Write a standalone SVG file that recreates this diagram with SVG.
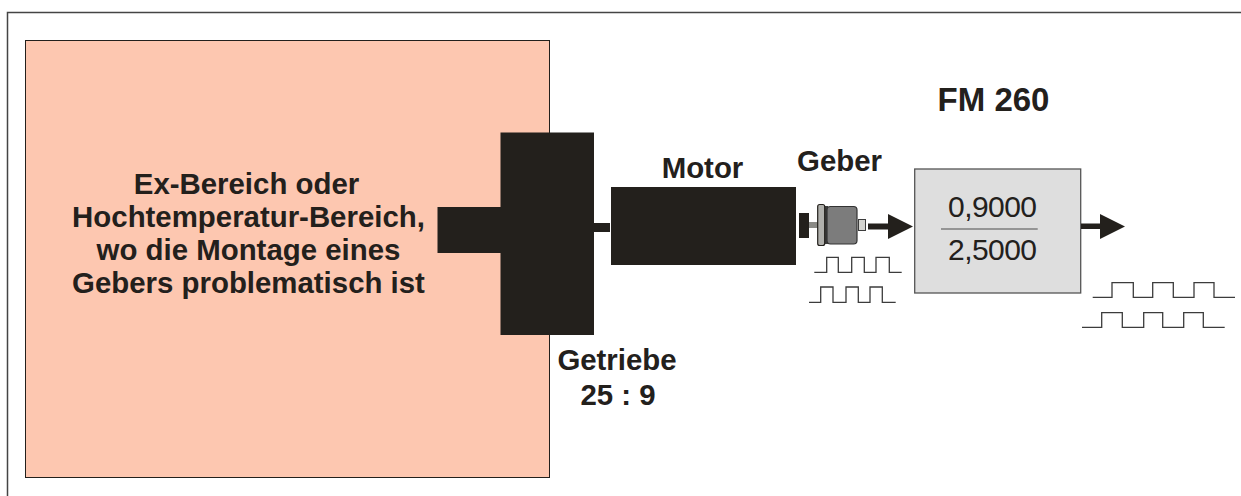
<svg xmlns="http://www.w3.org/2000/svg" width="1241" height="496" viewBox="0 0 1241 496">
<style>
.t{font-family:"Liberation Sans",Arial,sans-serif;font-weight:700;fill:#23201c;text-anchor:middle;font-size:29.400px}
.n{font-family:"Liberation Sans",Arial,sans-serif;fill:#23201c;font-size:30px}
.d{fill:#23201c}
.p{fill:none;stroke:#3c3c3c;stroke-width:1.300}
</style>
<rect width="1241" height="496" fill="#fff"/>
<path d="M7.500 496V12.500H1241" fill="none" stroke="#444" stroke-width="1.500"/>
<g id="area">
<rect x="25.500" y="40.500" width="524" height="437" fill="#fdc7b0" stroke="#23201c" stroke-width="1"/>
<text class="t"><tspan x="246.500" y="193.500">Ex-Bereich oder</tspan><tspan x="248.500" y="227">Hochtemperatur-Bereich,</tspan><tspan x="248.500" y="260">wo die Montage eines</tspan><tspan x="248.500" y="293">Gebers problematisch ist</tspan></text>
</g>
<g id="getriebe">
<path class="d" d="M500.500 132.500H594V223H610V232H594V335H500.500V253H437.500V207H500.500Z"/>
<text class="t"><tspan x="617" y="370">Getriebe</tspan><tspan x="618" y="405">25 : 9</tspan></text>
</g>
<g id="motor">
<rect class="d" x="611" y="187" width="185" height="78"/>
<text class="t" x="702.500" y="178">Motor</text>
</g>
<g id="geber">
<rect class="d" x="799" y="213" width="10" height="25"/>
<rect x="809" y="222" width="9" height="6" fill="#8a8a86"/>
<rect x="824" y="206" width="4" height="38" fill="#3c3c3c"/>
<rect x="817.700" y="204.500" width="7" height="41" rx="2" fill="#b0b0ac" stroke="#23201c" stroke-width="1.200"/>
<rect x="827" y="206.500" width="30" height="37.500" rx="3.500" fill="#7c7c7c" stroke="#333" stroke-width="1.200"/>
<rect x="858.500" y="219.500" width="7" height="11" fill="#d4d4d0" stroke="#3c3c3c"/>
<text class="t" x="839.500" y="171">Geber</text>
<path class="p" d="M814.300 272.300H826.700V257.300H838.300V272.300H851.700V257.300H864.300V272.300H876V257.300H889.300V272.300H901.700"/>
<path class="p" d="M809 302.300H820.700V287H833V302.300H846V287H858.300V302.300H870V287H882.300V302.300H895.700"/>
</g>
<g id="fm260">
<rect x="914.700" y="169" width="166" height="124" fill="#dedede" stroke="#555" stroke-width="1.300"/>
<path d="M941 229H1037.700" stroke="#7c7c7c" stroke-width="1.500"/>
<text class="n" x="948" y="217" textLength="89">0,9000</text>
<text class="n" x="948" y="259.500" textLength="89">2,5000</text>
<text class="t" x="993.500" y="111" style="font-size:33px">FM 260</text>
<path class="p" d="M1092.700 297.300H1112V282.700H1133.300V297.300H1152.700V282.700H1173.300V297.300H1194V282.700H1214V297.300H1235"/>
<path class="p" d="M1082 327.300H1101.700V312.700H1122.300V327.300H1143.700V312.700H1162.700V327.300H1183.700V312.700H1203.300V327.300H1224.700"/>
</g>
<g id="connectors">
<path class="d" d="M868 223.500H888V214L913 226.500 888 239V229.500H868Z"/>
<path class="d" d="M1081 223.500H1100V214L1125 226.500 1100 239V229H1081Z"/>
</g>
</svg>
